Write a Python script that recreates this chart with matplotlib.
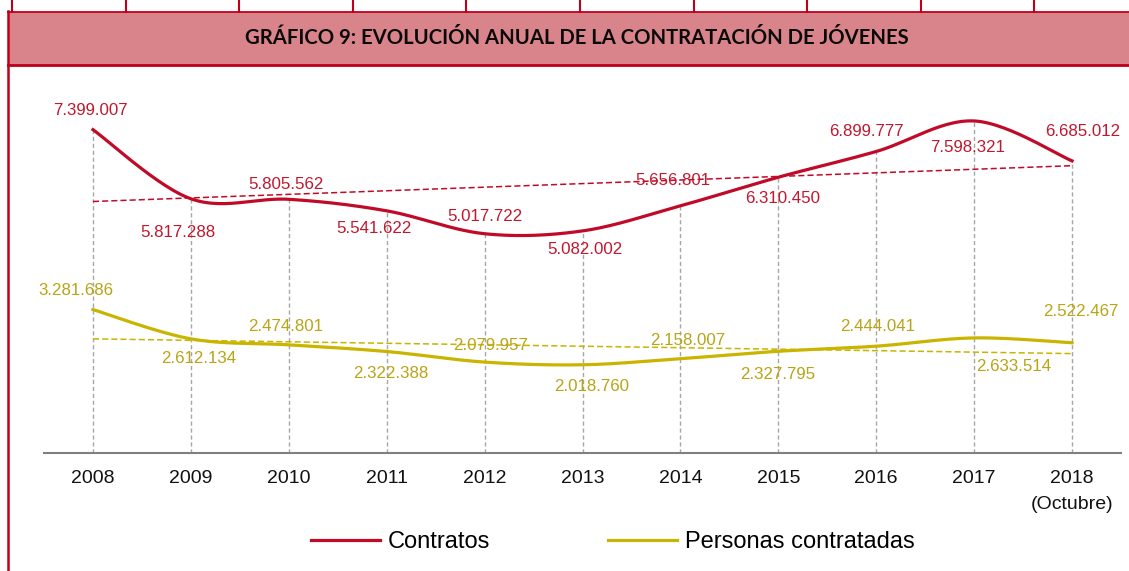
import numpy as np
import matplotlib
matplotlib.use('Agg')
import matplotlib.pyplot as plt

# datos
anios = ['2008', '2009', '2010', '2011', '2012', '2013', '2014', '2015', '2016', '2017', '2018\n(Octubre)']
contratos = [7399007, 5817288, 5805562, 5541622, 5017722, 5082002, 5656801, 6310450, 6899777, 7598321, 6685012]
personas = [3281686, 2612134, 2474801, 2322388, 2079957, 2018760, 2158007, 2327795, 2444041, 2633514, 2522467]

# desplazamiento de las etiquetas (px, y hacia abajo)
off_contratos = [(-3, -19), (-13, 34), (-3, -15), (-13, 18), (0, -17), (2, 19),
                 (-8, -25), (4, 21), (-10, -20), (-7, 27), (11, -29)]
off_personas = [(-17, -19), (8, 20), (-3, -18), (4, 22), (6, -17), (9, 22),
                (7, -18), (-1, 23), (1, -20), (40, 29), (9, -31)]

ROJO = '#C00A28'
ROJO_TXT = '#C0182F'
AMARILLO = '#C9B400'
AMARILLO_TXT = '#B8A415'
BORDE = '#C00018'
W, H = 1129, 571


def fmt(v):
    return f'{v:,}'.replace(',', '.')


def suavizar(y, n=30):
    # curva suavizada tipo Excel (Catmull-Rom)
    y = np.asarray(y, dtype=float)
    x = np.arange(len(y), dtype=float)
    p = np.concatenate([[y[0]], y, [y[-1]]])
    q = np.concatenate([[x[0]], x, [x[-1]]])
    xs, ys = [], []
    t = np.linspace(0, 1, n)
    for i in range(len(y) - 1):
        x0, x1, x2, x3 = q[i], q[i + 1], q[i + 2], q[i + 3]
        y0, y1, y2, y3 = p[i], p[i + 1], p[i + 2], p[i + 3]
        cx1, cy1 = x1 + (x2 - x0) / 6, y1 + (y2 - y0) / 6
        cx2, cy2 = x2 - (x3 - x1) / 6, y2 - (y3 - y1) / 6
        bx = (1 - t) ** 3 * x1 + 3 * (1 - t) ** 2 * t * cx1 + 3 * (1 - t) * t ** 2 * cx2 + t ** 3 * x2
        by = (1 - t) ** 3 * y1 + 3 * (1 - t) ** 2 * t * cy1 + 3 * (1 - t) * t ** 2 * cy2 + t ** 3 * y2
        xs.append(bx)
        ys.append(by)
    return np.concatenate(xs), np.concatenate(ys)


fig = plt.figure(figsize=(W / 100, H / 100), dpi=100)

# fondo: cabecera y bordes en pixeles
bg = fig.add_axes([0, 0, 1, 1])
bg.set_xlim(0, W)
bg.set_ylim(H, 0)
bg.axis('off')
bg.add_patch(plt.Rectangle((8, 11.5), W - 8, 53, facecolor='#D9848A', edgecolor='none'))
bg.plot([8, W], [11.5, 11.5], color=BORDE, lw=1.3)
bg.plot([8, W], [64.5, 64.5], color=BORDE, lw=2)
bg.plot([8, 8], [11, H], color=BORDE, lw=1.8)
for k in range(10):
    xk = 12 + 113.6 * k
    bg.plot([xk, xk], [0, 11.5], color=BORDE, lw=1.5)
bg.text(577, 38, 'GRÁFICO 9: EVOLUCIÓN ANUAL DE LA CONTRATACIÓN DE JÓVENES',
        ha='center', va='center', fontsize=14.6, fontweight='bold',
        family=['Lato', 'DejaVu Sans'], color='#0A0A0A')

ax = fig.add_axes([44 / W, (H - 453) / H, 1077 / W, 374 / H])
ax.patch.set_alpha(0)
x = np.arange(len(anios))
ax.set_xlim(-0.5, 10.5)
ax.set_ylim(0, 374 / 43.7 * 1e6)

# lineas de caida
ax.vlines(x, 0, contratos, colors='#A6A6A6', lw=1, linestyles=(0, (3, 2)), zorder=1)

# tendencias
for serie, col in [(contratos, ROJO), (personas, AMARILLO)]:
    a, b = np.polyfit(x, serie, 1)
    ax.plot(x, a * x + b, color=col, lw=1.1, ls=(0, (4, 2)), zorder=2)

xs, ys = suavizar(contratos)
l1, = ax.plot(xs, ys, color=ROJO, lw=2.3, label='Contratos', zorder=3)
xs, ys = suavizar(personas)
l2, = ax.plot(xs, ys, color=AMARILLO, lw=2.3, label='Personas contratadas', zorder=3)

for serie, offs, col in [(contratos, off_contratos, ROJO_TXT), (personas, off_personas, AMARILLO_TXT)]:
    for i, v in enumerate(serie):
        dx, dy = offs[i]
        ax.annotate(fmt(v), (x[i], v), xytext=(dx, -dy), textcoords='offset pixels',
                    ha='center', va='center', fontsize=12.2, color=col,
                    family='Liberation Sans', zorder=4)

for s in ['left', 'right', 'top']:
    ax.spines[s].set_visible(False)
ax.spines['bottom'].set_color('#808080')
ax.spines['bottom'].set_linewidth(1.5)
ax.set_yticks([])
ax.set_xticks(x)
ax.set_xticklabels(anios, fontsize=14, family='Liberation Sans', color='#111111', linespacing=1.75)
ax.tick_params(axis='x', length=0, pad=12)

fig.legend(handles=[l1, l2], loc='center', bbox_to_anchor=(613 / W, (H - 542) / H), ncol=2,
           frameon=False, prop={'family': 'Liberation Sans', 'size': 17},
           handlelength=2.9, handletextpad=0.35, columnspacing=5.0)

fig.savefig('out.png', dpi=100)
